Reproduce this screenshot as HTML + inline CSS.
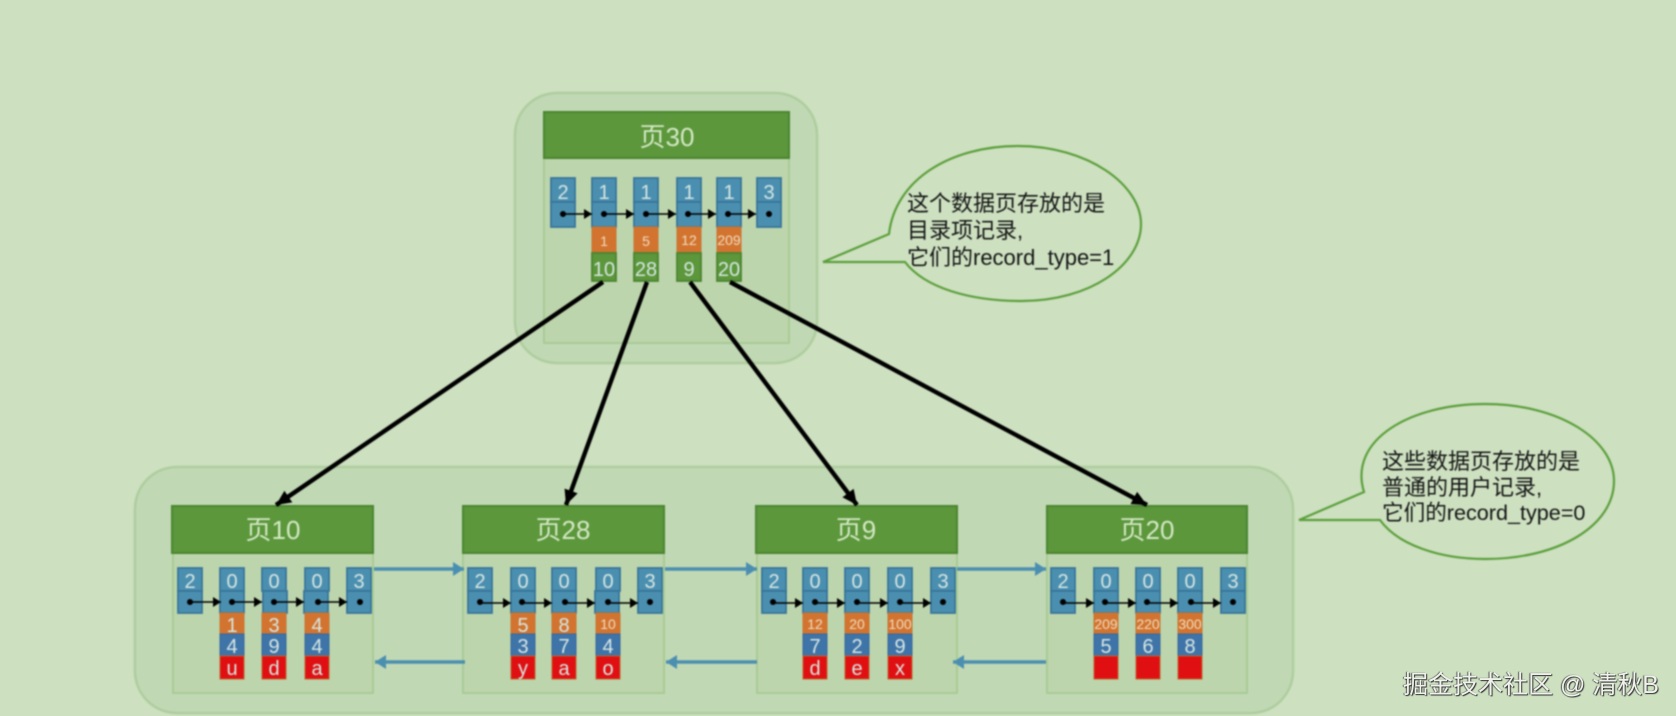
<!DOCTYPE html>
<html><head><meta charset="utf-8">
<style>
html,body{margin:0;padding:0;width:1676px;height:716px;overflow:hidden;background:#cde0c0}
svg{position:absolute;left:0;top:0;filter:blur(.7px)}
text{font-family:"Liberation Sans","Noto Sans CJK SC",sans-serif;text-anchor:middle}
.d text{fill:#d6e6e2;font-size:20px}
.d .s{font-size:14px;fill:#f0dcc0}
.h{font-size:26px;fill:#d4e8c4}
.b rect{fill:#4b8fb0;stroke:#38769a;stroke-width:1.8}
.o rect{fill:#d2742f;stroke:#c8742f;stroke-width:1}
.g rect{fill:#5c973c;stroke:#4a8530;stroke-width:1.8}
.n rect{fill:#3f74a8;stroke:#36679a;stroke-width:1}
.r rect{fill:#e01012;stroke:#c0602a;stroke-width:1}
.c text{font-size:22px;fill:#151515;text-anchor:start}
.c .t{font-size:21.6px}
.wm{position:absolute;left:1403px;top:665px;font:25px "Liberation Sans","Noto Sans CJK SC",sans-serif;color:#eef2ea;text-shadow:1px 1px 1px #333,-1px 0 1px #555;white-space:nowrap;filter:blur(.3px)}
</style></head><body>
<svg width="1676" height="716" viewBox="0 0 1676 716" xmlns="http://www.w3.org/2000/svg">
<defs>
<marker id="k" markerUnits="userSpaceOnUse" markerWidth="9" markerHeight="10" refX="8" refY="5" orient="auto"><path d="M0 0L8 5L0 10Z" fill="#000"/></marker>
<marker id="K" markerUnits="userSpaceOnUse" markerWidth="16" markerHeight="16" refX="15" refY="8" orient="auto"><path d="M0 1L15 8L0 15Z" fill="#000"/></marker>
<marker id="B" markerUnits="userSpaceOnUse" markerWidth="12" markerHeight="14" refX="11" refY="7" orient="auto"><path d="M0 0L11 7L0 14Z" fill="#4b8fb0"/></marker>
</defs>

<!-- groups -->
<rect x="515" y="93" width="302" height="270" rx="42" fill="#c1d8b4" stroke="#aecd9e" stroke-width="2.5"/>
<rect x="135" y="467" width="1158" height="246" rx="42" fill="#c1d8b4" stroke="#aecd9e" stroke-width="2.5"/>

<!-- page bodies -->
<g fill="#bdd5ad" stroke="#a8cb95" stroke-width="2">
<rect x="544" y="150" width="245" height="193"/>
<rect x="173" y="545" width="200" height="148"/>
<rect x="463" y="545" width="201" height="148"/>
<rect x="757" y="545" width="200" height="148"/>
<rect x="1047" y="545" width="200" height="148"/>
</g>
<!-- headers -->
<g fill="#5c973c" stroke="#4a8530" stroke-width="2">
<rect x="544" y="112" width="245" height="46"/>
<rect x="172" y="506" width="201" height="47"/>
<rect x="463" y="506" width="201" height="47"/>
<rect x="756" y="506" width="201" height="47"/>
<rect x="1047" y="506" width="200" height="47"/>
</g>
<text class="h" x="667" y="146">页30</text>
<text class="h" x="273" y="539">页10</text>
<text class="h" x="563" y="539">页28</text>
<text class="h" x="856" y="539">页9</text>
<text class="h" x="1147" y="539">页20</text>

<!-- page 30 cells -->
<g class="b">
<rect x="551" y="178" width="24" height="24"/><rect x="551" y="202" width="24" height="25"/>
<rect x="592" y="178" width="24" height="24"/><rect x="592" y="202" width="24" height="25"/>
<rect x="634" y="178" width="24" height="24"/><rect x="634" y="202" width="24" height="25"/>
<rect x="677" y="178" width="24" height="24"/><rect x="677" y="202" width="24" height="25"/>
<rect x="717" y="178" width="24" height="24"/><rect x="717" y="202" width="24" height="25"/>
<rect x="757" y="178" width="24" height="24"/><rect x="757" y="202" width="24" height="25"/>
</g>
<g class="o">
<rect x="592" y="227" width="24" height="26"/><rect x="634" y="227" width="24" height="26"/><rect x="677" y="227" width="24" height="26"/><rect x="717" y="227" width="24" height="26"/>
</g>
<g class="g">
<rect x="592" y="253" width="24" height="28"/><rect x="634" y="253" width="24" height="28"/><rect x="677" y="253" width="24" height="28"/><rect x="717" y="253" width="24" height="28"/>
</g>
<g class="d">
<text x="563" y="199">2</text><text x="604" y="199">1</text><text x="646" y="199">1</text><text x="689" y="199">1</text><text x="729" y="199">1</text><text x="769" y="199">3</text>
<text x="604" y="276">10</text><text x="646" y="276">28</text><text x="689" y="276">9</text><text x="729" y="276">20</text>
<text class="s" x="604" y="246">1</text><text class="s" x="646" y="246">5</text><text class="s" x="689" y="245">12</text><text class="s" x="729" y="245">209</text>
</g>
<g stroke="#000" stroke-width="1.6" marker-end="url(#k)">
<line x1="563" y1="214" x2="592" y2="214"/><line x1="604" y1="214" x2="634" y2="214"/><line x1="646" y1="214" x2="676" y2="214"/><line x1="689" y1="214" x2="716" y2="214"/><line x1="729" y1="214" x2="756" y2="214"/>
</g>
<g fill="#000"><circle cx="563" cy="214" r="3"/><circle cx="604" cy="214" r="3"/><circle cx="646" cy="214" r="3"/><circle cx="688" cy="214" r="3"/><circle cx="728" cy="214" r="3"/><circle cx="769" cy="214" r="3"/></g>

<!-- page 10 -->
<g class="b">
<rect x="178" y="568" width="24" height="23"/><rect x="178" y="591" width="24" height="22"/>
<rect x="220" y="568" width="24" height="23"/><rect x="220" y="591" width="24" height="22"/>
<rect x="262" y="568" width="24" height="23"/><rect x="263" y="591" width="24" height="22"/>
<rect x="305" y="568" width="24" height="23"/><rect x="304" y="591" width="24" height="22"/>
<rect x="347" y="568" width="24" height="23"/><rect x="347" y="591" width="24" height="22"/>
</g>
<g class="o"><rect x="220" y="613" width="24" height="21"/><rect x="262" y="613" width="24" height="21"/><rect x="305" y="613" width="24" height="21"/></g>
<g class="n"><rect x="220" y="634" width="24" height="22"/><rect x="262" y="634" width="24" height="22"/><rect x="305" y="634" width="24" height="22"/></g>
<g class="r"><rect x="220" y="656" width="24" height="23"/><rect x="262" y="656" width="24" height="23"/><rect x="305" y="656" width="24" height="23"/></g>
<g class="d">
<text x="190" y="588">2</text><text x="232" y="588">0</text><text x="274" y="588">0</text><text x="317" y="588">0</text><text x="359" y="588">3</text>
<text x="232" y="632">1</text><text x="274" y="632">3</text><text x="317" y="632">4</text>
<text x="232" y="653">4</text><text x="274" y="653">9</text><text x="317" y="653">4</text>
<text x="232" y="675">u</text><text x="274" y="675">d</text><text x="317" y="675">a</text>
</g>
<g stroke="#000" stroke-width="1.6" marker-end="url(#k)">
<line x1="190" y1="602" x2="221" y2="602"/><line x1="232" y1="602" x2="262" y2="602"/><line x1="274" y1="602" x2="304" y2="602"/><line x1="317" y1="602" x2="347" y2="602"/>
</g>
<g fill="#000"><circle cx="190" cy="602" r="3"/><circle cx="232" cy="602" r="3"/><circle cx="274" cy="602" r="3"/><circle cx="318" cy="602" r="3"/><circle cx="360" cy="602" r="3"/></g>

<!-- page 28 -->
<g class="b">
<rect x="468" y="568" width="24" height="23"/><rect x="468" y="591" width="24" height="22"/>
<rect x="511" y="568" width="24" height="23"/><rect x="511" y="591" width="24" height="22"/>
<rect x="552" y="568" width="24" height="23"/><rect x="552" y="591" width="24" height="22"/>
<rect x="596" y="568" width="24" height="23"/><rect x="595" y="591" width="24" height="22"/>
<rect x="638" y="568" width="24" height="23"/><rect x="638" y="591" width="24" height="22"/>
</g>
<g class="o"><rect x="511" y="613" width="24" height="21"/><rect x="552" y="613" width="24" height="21"/><rect x="596" y="613" width="24" height="21"/></g>
<g class="n"><rect x="511" y="634" width="24" height="22"/><rect x="552" y="634" width="24" height="22"/><rect x="596" y="634" width="24" height="22"/></g>
<g class="r"><rect x="511" y="656" width="24" height="23"/><rect x="552" y="656" width="24" height="23"/><rect x="596" y="656" width="24" height="23"/></g>
<g class="d">
<text x="480" y="588">2</text><text x="523" y="588">0</text><text x="564" y="588">0</text><text x="608" y="588">0</text><text x="650" y="588">3</text>
<text x="523" y="632">5</text><text x="564" y="632">8</text><text class="s" x="608" y="629">10</text>
<text x="523" y="653">3</text><text x="564" y="653">7</text><text x="608" y="653">4</text>
<text x="523" y="675">y</text><text x="564" y="675">a</text><text x="608" y="675">o</text>
</g>
<g stroke="#000" stroke-width="1.6" marker-end="url(#k)">
<line x1="480" y1="603" x2="511" y2="603"/><line x1="522" y1="603" x2="552" y2="603"/><line x1="565" y1="603" x2="595" y2="603"/><line x1="608" y1="603" x2="638" y2="603"/>
</g>
<g fill="#000"><circle cx="480" cy="602" r="3"/><circle cx="522" cy="602" r="3"/><circle cx="565" cy="602" r="3"/><circle cx="608" cy="602" r="3"/><circle cx="650" cy="602" r="3"/></g>

<!-- page 9 -->
<g class="b">
<rect x="762" y="568" width="24" height="23"/><rect x="762" y="591" width="24" height="22"/>
<rect x="803" y="568" width="24" height="23"/><rect x="803" y="591" width="24" height="22"/>
<rect x="845" y="568" width="24" height="23"/><rect x="845" y="591" width="24" height="22"/>
<rect x="888" y="568" width="24" height="23"/><rect x="888" y="591" width="24" height="22"/>
<rect x="931" y="568" width="24" height="23"/><rect x="931" y="591" width="24" height="22"/>
</g>
<g class="o"><rect x="803" y="613" width="24" height="21"/><rect x="845" y="613" width="24" height="21"/><rect x="888" y="613" width="24" height="21"/></g>
<g class="n"><rect x="803" y="634" width="24" height="22"/><rect x="845" y="634" width="24" height="22"/><rect x="888" y="634" width="24" height="22"/></g>
<g class="r"><rect x="803" y="656" width="24" height="23"/><rect x="845" y="656" width="24" height="23"/><rect x="888" y="656" width="24" height="23"/></g>
<g class="d">
<text x="774" y="588">2</text><text x="815" y="588">0</text><text x="857" y="588">0</text><text x="900" y="588">0</text><text x="943" y="588">3</text>
<text class="s" x="815" y="629">12</text><text class="s" x="857" y="629">20</text><text class="s" x="900" y="629">100</text>
<text x="815" y="653">7</text><text x="857" y="653">2</text><text x="900" y="653">9</text>
<text x="815" y="675">d</text><text x="857" y="675">e</text><text x="900" y="675">x</text>
</g>
<g stroke="#000" stroke-width="1.6" marker-end="url(#k)">
<line x1="773" y1="603" x2="803" y2="603"/><line x1="815" y1="603" x2="845" y2="603"/><line x1="857" y1="603" x2="888" y2="603"/><line x1="900" y1="603" x2="931" y2="603"/>
</g>
<g fill="#000"><circle cx="773" cy="602" r="3"/><circle cx="815" cy="602" r="3"/><circle cx="857" cy="602" r="3"/><circle cx="900" cy="602" r="3"/><circle cx="943" cy="602" r="3"/></g>

<!-- page 20 -->
<g class="b">
<rect x="1051" y="568" width="24" height="23"/><rect x="1051" y="591" width="24" height="22"/>
<rect x="1094" y="568" width="24" height="23"/><rect x="1094" y="591" width="24" height="22"/>
<rect x="1136" y="568" width="24" height="23"/><rect x="1136" y="591" width="24" height="22"/>
<rect x="1178" y="568" width="24" height="23"/><rect x="1178" y="591" width="24" height="22"/>
<rect x="1221" y="568" width="24" height="23"/><rect x="1221" y="591" width="24" height="22"/>
</g>
<g class="o"><rect x="1094" y="613" width="24" height="21"/><rect x="1136" y="613" width="24" height="21"/><rect x="1178" y="613" width="24" height="21"/></g>
<g class="n"><rect x="1094" y="634" width="24" height="22"/><rect x="1136" y="634" width="24" height="22"/><rect x="1178" y="634" width="24" height="22"/></g>
<g class="r"><rect x="1094" y="656" width="24" height="23"/><rect x="1136" y="656" width="24" height="23"/><rect x="1178" y="656" width="24" height="23"/></g>
<g class="d">
<text x="1063" y="588">2</text><text x="1106" y="588">0</text><text x="1148" y="588">0</text><text x="1190" y="588">0</text><text x="1233" y="588">3</text>
<text class="s" x="1106" y="629">209</text><text class="s" x="1148" y="629">220</text><text class="s" x="1190" y="629">300</text>
<text x="1106" y="653">5</text><text x="1148" y="653">6</text><text x="1190" y="653">8</text>
</g>
<g stroke="#000" stroke-width="1.6" marker-end="url(#k)">
<line x1="1063" y1="603" x2="1094" y2="603"/><line x1="1105" y1="603" x2="1136" y2="603"/><line x1="1147" y1="603" x2="1178" y2="603"/><line x1="1191" y1="603" x2="1221" y2="603"/>
</g>
<g fill="#000"><circle cx="1063" cy="602" r="3"/><circle cx="1105" cy="602" r="3"/><circle cx="1147" cy="602" r="3"/><circle cx="1191" cy="602" r="3"/><circle cx="1233" cy="602" r="3"/></g>

<!-- blue arrows -->
<g stroke="#4b8fb0" stroke-width="3.5" marker-end="url(#B)">
<line x1="374" y1="569" x2="464" y2="569"/>
<line x1="665" y1="569" x2="757" y2="569"/>
<line x1="957" y1="569" x2="1046" y2="569"/>
<line x1="465" y1="662" x2="375" y2="662"/>
<line x1="757" y1="662" x2="666" y2="662"/>
<line x1="1046" y1="662" x2="953" y2="662"/>
</g>

<!-- black arrows -->
<g stroke="#000" stroke-width="4.4" marker-end="url(#K)">
<line x1="603" y1="282" x2="276" y2="505"/>
<line x1="647" y1="282" x2="566" y2="505"/>
<line x1="690" y1="282" x2="857" y2="505"/>
<line x1="730" y1="282" x2="1147" y2="505"/>
</g>

<!-- callouts -->
<path d="M889 234C895 180 950 146 1018 146C1088 146 1141 185 1141 224C1141 265 1090 301 1022 301C970 301 925 288 905 262L823 262Z" fill="#cde0c0" stroke="#5c9f3c" stroke-width="2.2"/>
<path d="M1364 492C1348 440 1410 404 1485 404C1560 404 1614 440 1614 481C1614 525 1560 559 1485 559C1440 559 1398 545 1380 520L1299 520Z" fill="#cde0c0" stroke="#5c9f3c" stroke-width="2.2"/>
<g class="c">
<text x="907" y="211">这个数据页存放的是</text>
<text x="907" y="238">目录项记录,</text>
<text x="907" y="265">它们的record_type=1</text>
<text x="1382" y="469">这些数据页存放的是</text>
<text x="1382" y="495">普通的用户记录,</text>
<text class="t" x="1382" y="520">它们的record_type=0</text>
</g>
</svg>
<div class="wm">掘金技术社区 @ 清秋B</div>
</body></html>
